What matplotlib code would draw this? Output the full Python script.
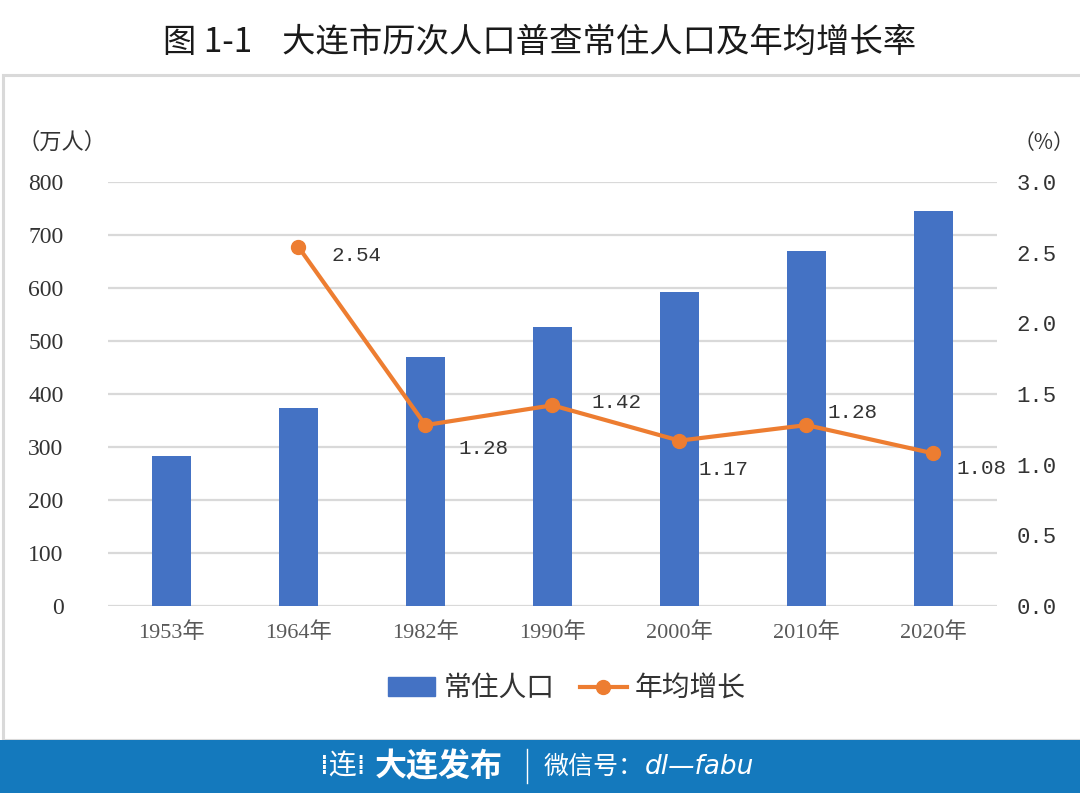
import matplotlib.pyplot as plt
from matplotlib.patches import Rectangle
from matplotlib.lines import Line2D

years = ["1953年", "1964年", "1982年", "1990年", "2000年", "2010年", "2020年"]
population = [283, 373, 470, 526, 592, 670, 745]
growth_years = ["1964年", "1982年", "1990年", "2000年", "2010年", "2020年"]
growth = [2.54, 1.28, 1.42, 1.17, 1.28, 1.08]
# label offsets in points (dx, dy)
label_offsets = [(24, -6), (24, -17), (28, 2), (14, -21), (15, 9), (17, -11)]

cjk = ["Noto Sans CJK SC", "DejaVu Sans"]
serif = ["Liberation Serif", "Noto Sans CJK SC"]
mono = ["Liberation Mono", "Noto Sans CJK SC"]
blue = "#4472C4"
orange = "#ED7D31"
grid = "#D9D9D9"

fig = plt.figure(figsize=(10.8, 7.93), dpi=100)

# frame around chart and bottom banner
fig.patches.append(Rectangle((0.003, 0.067), 1.1, 0.838, transform=fig.transFigure,
                             fill=False, edgecolor="#D9D9D9", lw=2.2))
fig.patches.append(Rectangle((0, 0), 1, 0.067, transform=fig.transFigure,
                             facecolor="#1479BD", edgecolor="none"))

fig.text(0.5, 0.946, "图 1-1    大连市历次人口普查常住人口及年均增长率", ha="center", va="center",
         fontsize=24, family=cjk, weight="medium", color="#1a1a1a")

ax = fig.add_axes([0.1, 0.2358, 0.823, 0.5347])
x = list(range(len(years)))
ax.bar(x, population, width=0.31, color=blue, zorder=3)
ax.set_xlim(-0.5, len(years) - 0.5)
ax.set_ylim(0, 800)
ax.set_yticks(range(0, 801, 100))
ax.set_xticks(x)
ax.set_xticklabels(years, family=serif, fontsize=16, color="#595959")
for lab in ax.get_yticklabels():
    lab.set_family(serif)
ax.tick_params(axis="y", labelsize=17, colors="#333333", length=0, pad=32)
ax.tick_params(axis="x", length=0, pad=12)
ax.grid(axis="y", color=grid, lw=1.6, zorder=0)
for s in ax.spines.values():
    s.set_visible(False)

ax2 = ax.twinx()
gx = [years.index(y) for y in growth_years]
ax2.plot(gx, growth, color=orange, lw=3, marker="o", markersize=10, zorder=4)
ax2.set_ylim(0, 3.0)
ax2.set_yticks([0, 0.5, 1.0, 1.5, 2.0, 2.5, 3.0])
ax2.set_yticklabels([f"{v:.1f}" for v in ax2.get_yticks()], family=mono, fontsize=16, color="#333333")
ax2.tick_params(axis="y", length=0, pad=14)
for s in ax2.spines.values():
    s.set_visible(False)
for xi, v, (dx, dy) in zip(gx, growth, label_offsets):
    ax2.annotate(f"{v:.2f}", (xi, v), xytext=(dx, dy), textcoords="offset points",
                 family=mono, fontsize=15, color="#333333", va="center", ha="left")

fig.text(0.016, 0.82, "（万人）", family=cjk, fontsize=16, color="#333333", va="center")
fig.text(0.938, 0.82, "（%）", family=cjk, fontsize=15, color="#333333", va="center")

handles = [Rectangle((0, 0), 1, 1, color=blue),
           Line2D([], [], color=orange, lw=3, marker="o", markersize=10)]
fig.legend(handles, ["常住人口", "年均增长"], loc="center", bbox_to_anchor=(0.525, 0.132),
           ncol=2, frameon=False, prop={"family": cjk, "size": 20}, handlelength=1.7,
           columnspacing=0.9, handletextpad=0.3, labelcolor="#333333")

# banner text (logo approximated with a dotted 连)
fig.text(0.296, 0.033, "⁞连⁞", family=["DejaVu Sans", "Noto Sans CJK SC"], fontsize=20,
         color="white", va="center")
fig.text(0.347, 0.033, "大连发布", family=cjk, fontsize=23, color="white", va="center", weight="bold")
fig.add_artist(Line2D([0.488, 0.488], [0.012, 0.055], color="white", lw=1, transform=fig.transFigure))
fig.text(0.503, 0.033, "微信号：", family=cjk, fontsize=18, color="white", va="center", style="italic")
fig.text(0.597, 0.033, "dl—fabu", family=["DejaVu Sans"], fontsize=19, color="white", va="center",
         style="italic")

fig.savefig("out.png", dpi=100)
